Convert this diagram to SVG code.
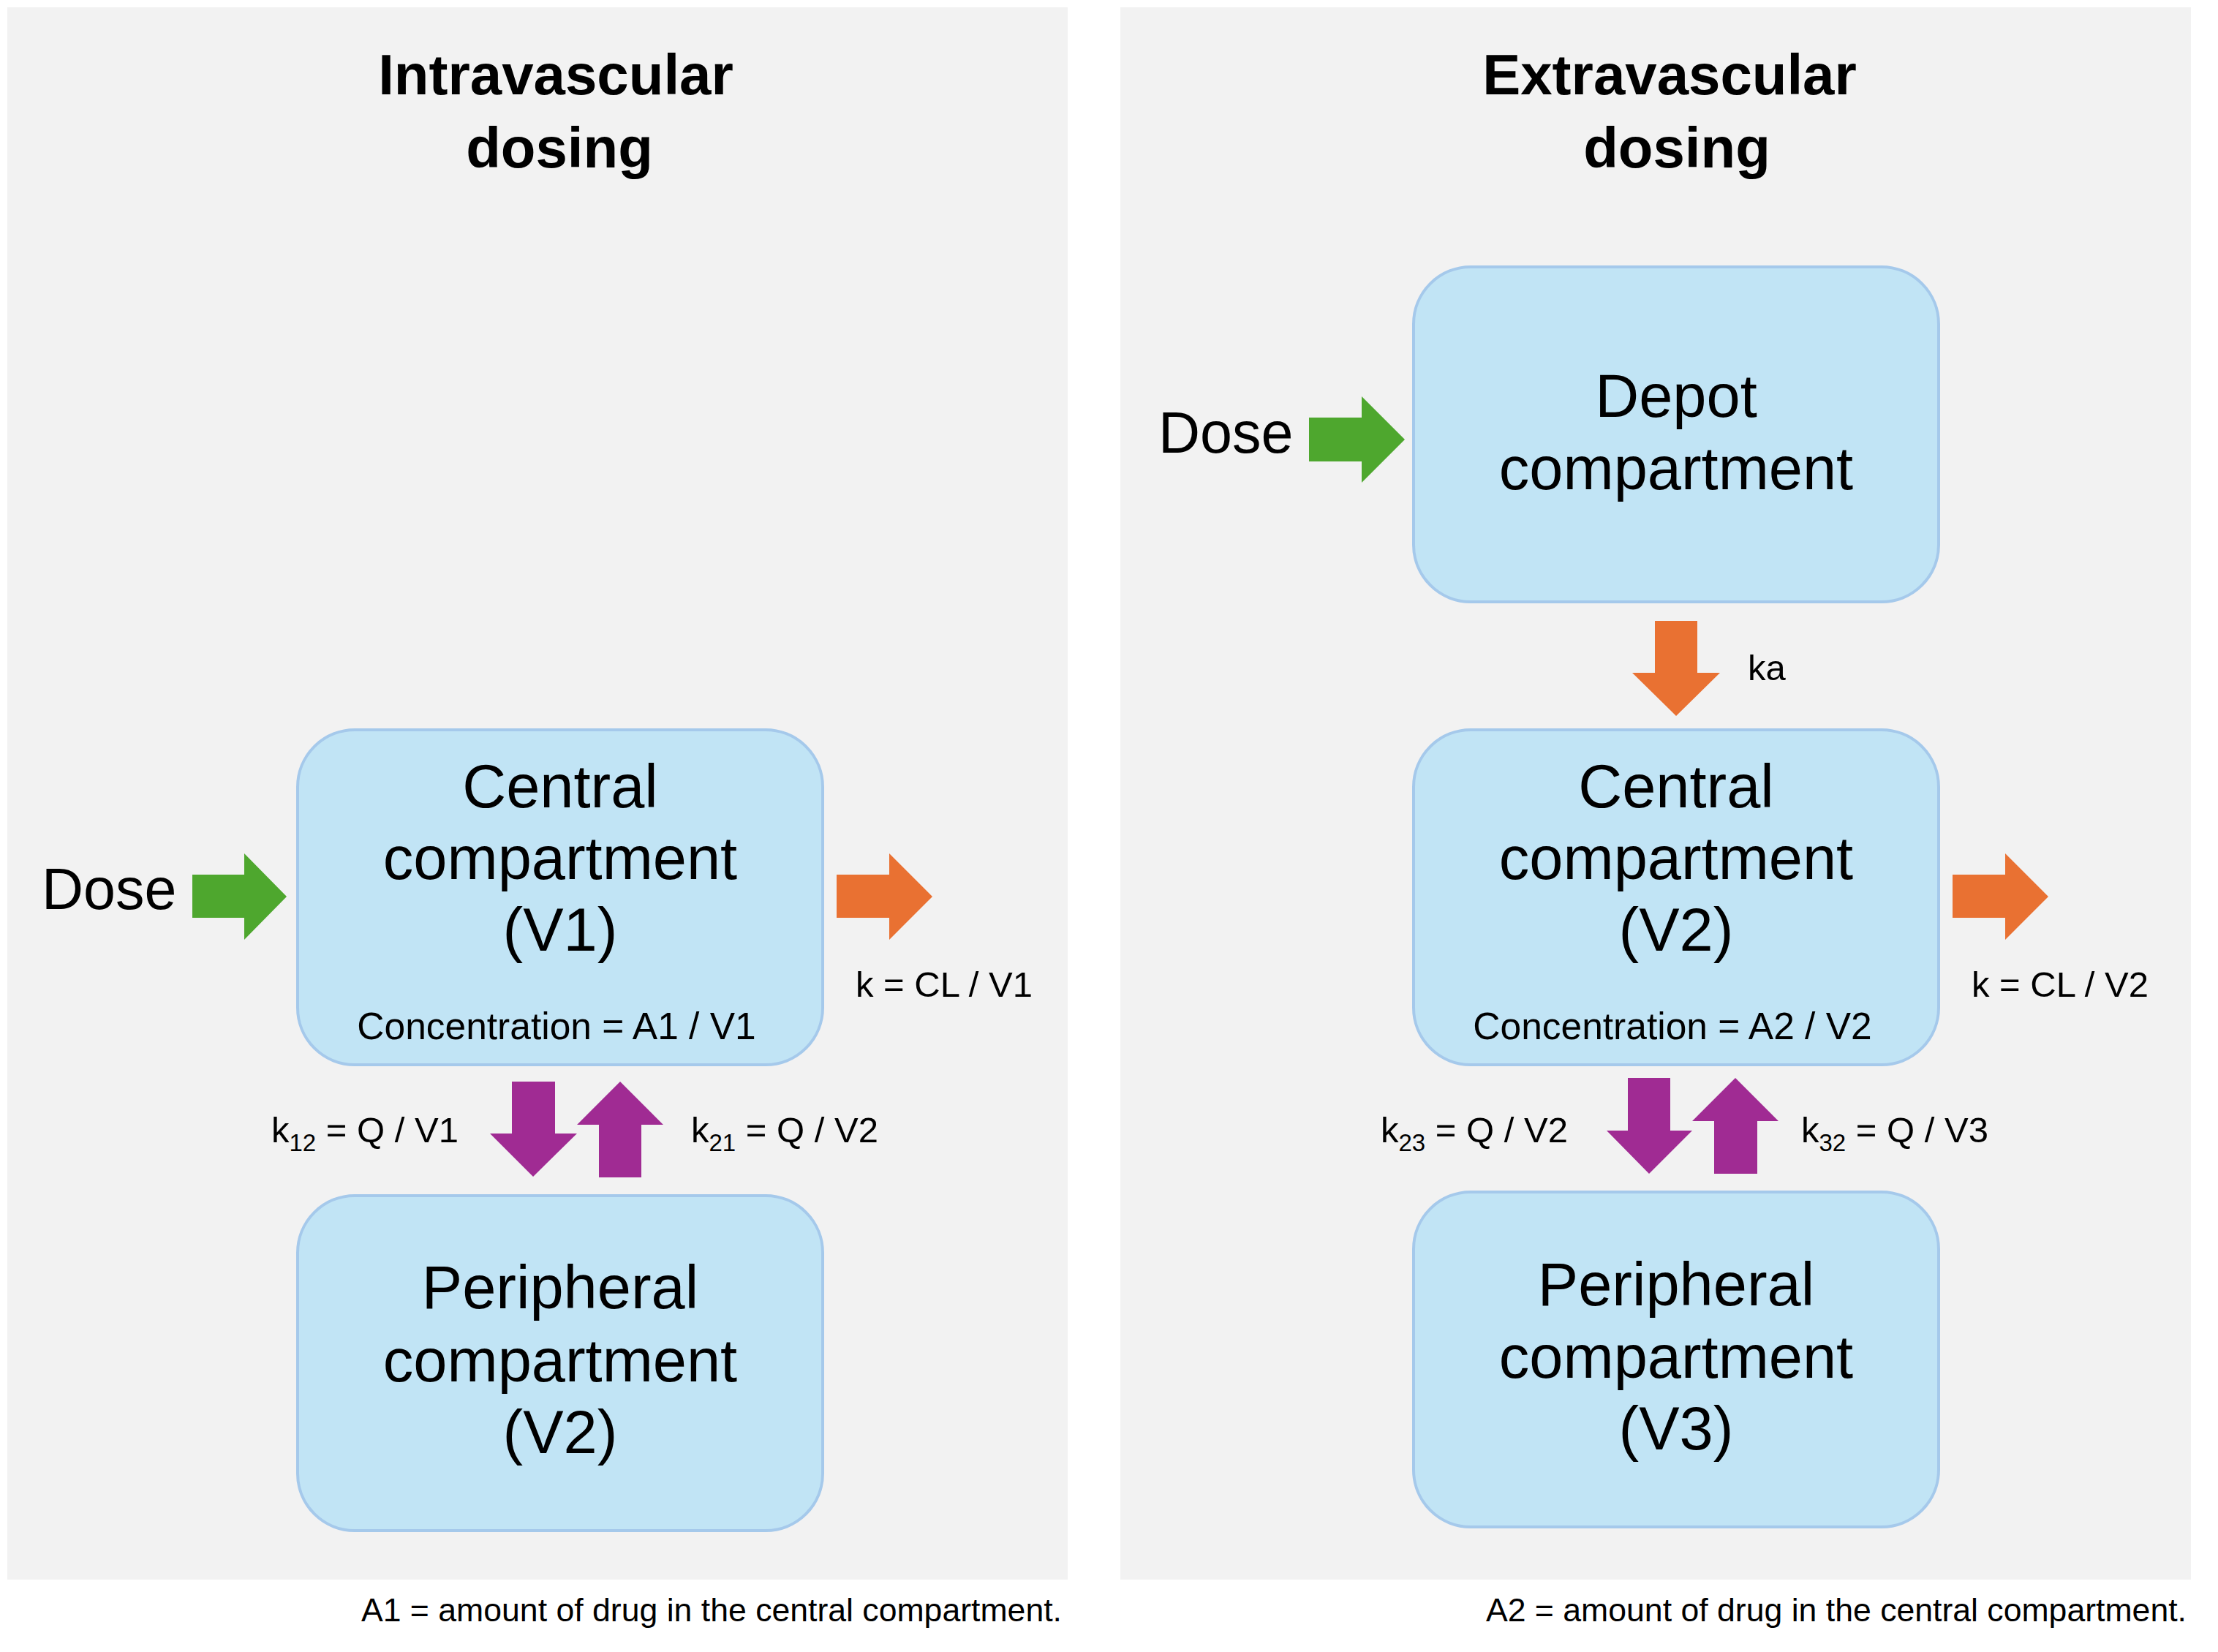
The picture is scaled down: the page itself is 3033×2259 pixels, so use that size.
<svg xmlns="http://www.w3.org/2000/svg" width="3033" height="2259" viewBox="0 0 3033 2259">
<style>
.panel{fill:#f2f2f2}
.box{fill:#c1e4f5;stroke:#a5c9eb;stroke-width:4}
.t{font-family:"Liberation Sans",Arial,sans-serif;fill:#000}
.title{font-size:78px;font-weight:bold;text-anchor:middle}
.big{font-size:83px;text-anchor:middle}
.conc{font-size:51.5px;text-anchor:middle}
.dose{font-size:79px}
.lbl{font-size:49px}
.sub{font-size:33px}
.note{font-size:44.6px;text-anchor:end}
.green{fill:#4ea72e}
.orange{fill:#e97132}
.purple{fill:#a02b93}
</style>
<rect width="3033" height="2259" fill="#ffffff"/>
<g id="panel-left">
<rect class="panel" x="10" y="10" width="1450" height="2150"/>
<text class="t title" x="760" y="129">Intravascular</text>
<text class="t title" x="765" y="229">dosing</text>
</g>
<g id="panel-right">
<rect class="panel" x="1532" y="10" width="1464" height="2150"/>
<text class="t title" x="2283" y="129">Extravascular</text>
<text class="t title" x="2293" y="229">dosing</text>
</g>
<g id="central-left">
<rect class="box" x="407" y="998" width="718" height="458" rx="78" ry="78"/>
<text class="t big" x="766" y="1104">Central</text>
<text class="t big" x="766" y="1202">compartment</text>
<text class="t big" x="766" y="1300">(V1)</text>
<text class="t conc" x="761" y="1421">Concentration = A1 / V1</text>
</g>
<g id="peripheral-left">
<rect class="box" x="407" y="1635" width="718" height="458" rx="78" ry="78"/>
<text class="t big" x="766" y="1789">Peripheral</text>
<text class="t big" x="766" y="1889">compartment</text>
<text class="t big" x="766" y="1987">(V2)</text>
</g>
<g id="depot-right">
<rect class="box" x="1933" y="365" width="718" height="458" rx="78" ry="78"/>
<text class="t big" x="2292" y="570">Depot</text>
<text class="t big" x="2292" y="669">compartment</text>
</g>
<g id="central-right">
<rect class="box" x="1933" y="998" width="718" height="458" rx="78" ry="78"/>
<text class="t big" x="2292" y="1104">Central</text>
<text class="t big" x="2292" y="1202">compartment</text>
<text class="t big" x="2292" y="1300">(V2)</text>
<text class="t conc" x="2287" y="1421">Concentration = A2 / V2</text>
</g>
<g id="peripheral-right">
<rect class="box" x="1933" y="1630" width="718" height="458" rx="78" ry="78"/>
<text class="t big" x="2292" y="1785">Peripheral</text>
<text class="t big" x="2292" y="1884">compartment</text>
<text class="t big" x="2292" y="1982">(V3)</text>
</g>
<g id="connectors">
<polygon class="green" points="263,1196 334,1196 334,1167 392,1226 334,1285 334,1255 263,1255"/>
<polygon class="orange" points="1144,1196 1216,1196 1216,1167 1275,1226 1216,1285 1216,1255 1144,1255"/>
<polygon class="purple" points="700,1479 759,1479 759,1550 789,1550 729,1609 670,1550 700,1550"/>
<polygon class="purple" points="848,1479 907,1538 877,1538 877,1610 819,1610 819,1538 789,1538"/>
<polygon class="green" points="1790,571 1862,571 1862,542 1921,601 1862,660 1862,631 1790,631"/>
<polygon class="orange" points="2263,849 2321,849 2321,920 2352,920 2292,979 2232,920 2263,920"/>
<polygon class="orange" points="2670,1196 2742,1196 2742,1167 2801,1226 2742,1285 2742,1255 2670,1255"/>
<polygon class="purple" points="2226,1474 2284,1474 2284,1546 2314,1546 2255,1605 2197,1546 2226,1546"/>
<polygon class="purple" points="2373,1474 2432,1533 2403,1533 2403,1605 2344,1605 2344,1533 2314,1533"/>
</g>
<g id="labels">
<text class="t dose" x="57" y="1243">Dose</text>
<text class="t lbl" x="1170" y="1363">k = CL / V1</text>
<text class="t lbl" x="371" y="1562">k<tspan class="sub" dy="12">12</tspan><tspan dy="-12"> = Q / V1</tspan></text>
<text class="t lbl" x="945" y="1562">k<tspan class="sub" dy="12">21</tspan><tspan dy="-12"> = Q / V2</tspan></text>
<text class="t dose" x="1584" y="619">Dose</text>
<text class="t lbl" x="2390" y="930">ka</text>
<text class="t lbl" x="2696" y="1363">k = CL / V2</text>
<text class="t lbl" x="1888" y="1562">k<tspan class="sub" dy="12">23</tspan><tspan dy="-12"> = Q / V2</tspan></text>
<text class="t lbl" x="2463" y="1562">k<tspan class="sub" dy="12">32</tspan><tspan dy="-12"> = Q / V3</tspan></text>
<text class="t note" x="1452" y="2217">A1 = amount of drug in the central compartment.</text>
<text class="t note" x="2990" y="2217">A2 = amount of drug in the central compartment.</text>
</g>
</svg>
